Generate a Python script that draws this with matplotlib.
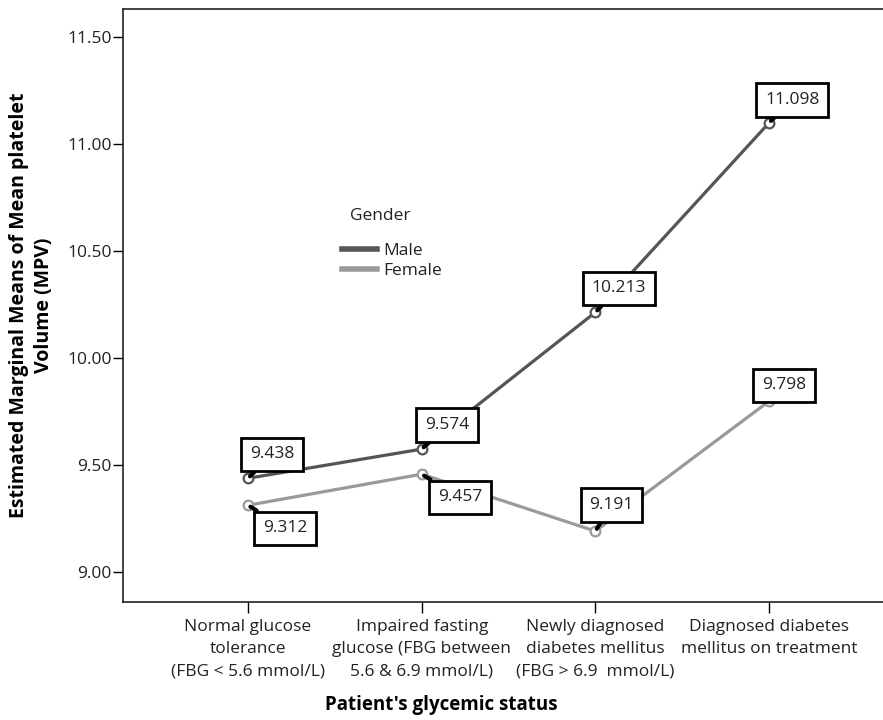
import matplotlib
matplotlib.use("Agg")
from matplotlib import pyplot as plt
from matplotlib.lines import Line2D

plt.rcParams['font.family'] = ['Open Sans', 'DejaVu Sans']

# data
categories = ["Normal glucose\ntolerance\n(FBG < 5.6 mmol/L)",
              "Impaired fasting\nglucose (FBG between\n5.6 & 6.9 mmol/L)",
              "Newly diagnosed\ndiabetes mellitus\n(FBG > 6.9  mmol/L)",
              "Diagnosed diabetes\nmellitus on treatment"]
male = [9.438, 9.574, 10.213, 11.098]
female = [9.312, 9.457, 9.191, 9.798]
yticks = [9.00, 9.50, 10.00, 10.50, 11.00, 11.50]

# label offsets (pixels) from each point
male_off = [(2, 16), (3, 16), (-4, 16), (-4, 15)]
female_off = [(15, -15), (16, -15), (-6, 18), (-7, 8)]

male_col = '#555555'
female_col = '#9a9a9a'
txt_col = '#222222'

fig = plt.figure(figsize=(8.83, 7.2), dpi=100)
ax = fig.add_axes([0.1393, 0.1639, 0.8732, 0.8236])

x = list(range(len(categories)))
ax.plot(x, male, color=male_col, lw=2.3, marker='o', ms=7, mfc='white',
        mec=male_col, mew=1.6, zorder=3)
ax.plot(x, female, color=female_col, lw=2.3, marker='o', ms=7, mfc='white',
        mec=female_col, mew=1.6, zorder=3)

def label(xi, yi, off):
    va = 'bottom' if off[1] > 0 else 'top'
    ax.annotate(f"{yi:.3f}", (xi, yi), xytext=off, textcoords='offset pixels',
                ha='left', va=va, fontsize=12.5, color=txt_col, zorder=5,
                bbox=dict(boxstyle='square,pad=0.5', fc='white', ec='black', lw=2),
                arrowprops=dict(arrowstyle='-', color='black', lw=3,
                                shrinkA=0, shrinkB=2))

for xi, yi, off in zip(x, male, male_off):
    label(xi, yi, off)
for xi, yi, off in zip(x, female, female_off):
    label(xi, yi, off)

ax.set_xlim(-0.72, 3.72)
ax.set_ylim(8.86, 11.63)
ax.set_xticks(x)
ax.set_xticklabels(categories, fontsize=12.5, color=txt_col, linespacing=1.55)
ax.set_yticks(yticks)
ax.set_yticklabels([f"{v:.2f}" for v in yticks], fontsize=12.5, color=txt_col)
ax.tick_params(axis='x', length=8, width=1, pad=4)
ax.tick_params(axis='y', length=7, width=1, pad=1)
for s in ax.spines.values():
    s.set_linewidth(1.2)
    s.set_color(txt_col)
ax.spines['right'].set_visible(False)

fig.text(441 / 883, 1 - 705 / 720, "Patient's glycemic status", fontsize=13.5,
         fontweight='bold', ha='center', va='center', color='black')
ax.set_ylabel("Estimated Marginal Means of Mean platelet\nVolume (MPV)", fontsize=14,
              fontweight='bold', labelpad=10, linespacing=1.3)

fig.text(350 / 883, 1 - 216 / 720, "Gender", fontsize=12.5, ha='left', va='center',
         color=txt_col)
handles = [Line2D([], [], color=male_col, lw=4), Line2D([], [], color=female_col, lw=4)]
leg = ax.legend(handles, ['Male', 'Female'], frameon=False,
                loc='upper left', bbox_to_anchor=(328 / 883, 1 - 229 / 720),
                bbox_transform=fig.transFigure, fontsize=12.5,
                handlelength=2.0, handletextpad=0.4, labelspacing=0.2,
                borderpad=0.3)
for t in leg.get_texts():
    t.set_color(txt_col)

fig.savefig("out.png", dpi=100)
